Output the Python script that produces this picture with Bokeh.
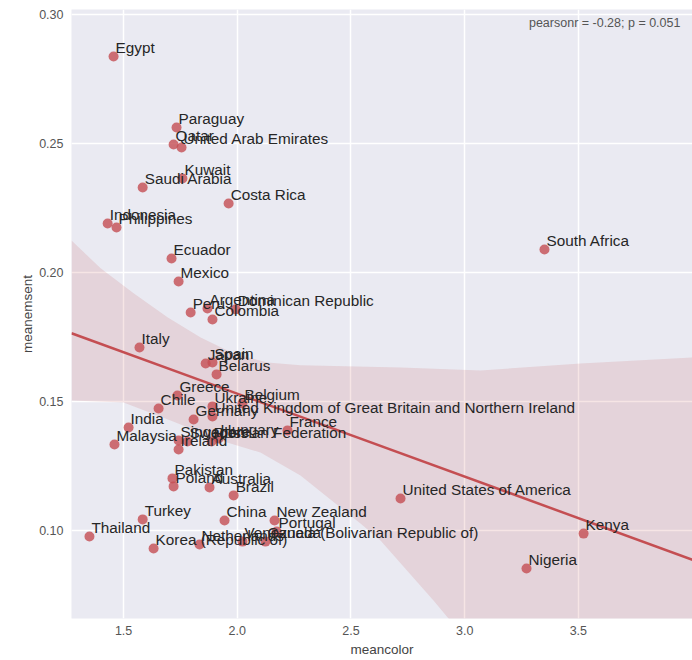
import numpy as np
from bokeh.plotting import figure
from bokeh.models import ColumnDataSource, FixedTicker, PrintfTickFormatter, Label, Range1d
from bokeh.core.properties import value
from bokeh.embed import file_html
from bokeh.resources import INLINE

countries = ["Egypt", "Paraguay", "Qatar", "United Arab Emirates", "Kuwait", "Saudi Arabia",
             "Costa Rica", "Indonesia", "Philippines", "Ecuador", "Mexico", "Peru", "Argentina",
             "Dominican Republic", "Colombia", "Italy", "Japan", "Spain", "Belarus", "South Africa",
             "Greece", "Chile", "Ukraine", "Belgium", "United Kingdom of Great Britain and Northern Ireland",
             "Germany", "France", "India", "Malaysia", "Singapore", "Sweden", "Ireland",
             "Russian Federation", "Hungary", "Pakistan", "Poland", "Australia", "Brazil", "Turkey",
             "China", "New Zealand", "Portugal", "Thailand", "Korea (Republic of)", "Netherlands",
             "Venezuela (Bolivarian Republic of)", "Canada", "United States of America", "Kenya", "Nigeria"]
mean_color = [1.456, 1.733, 1.720, 1.755, 1.759, 1.584,
              1.962, 1.430, 1.469, 1.711, 1.742, 1.795, 1.869,
              1.993, 1.891, 1.570, 1.861, 1.891, 1.909, 3.351,
              1.737, 1.654, 1.891, 2.023, 1.891,
              1.808, 2.221, 1.522, 1.460, 1.742, 1.781, 1.742,
              1.887, 1.918, 1.715, 1.720, 1.878, 1.984, 1.584,
              1.944, 2.164, 2.173, 1.350, 1.632, 1.834,
              2.023, 2.124, 2.718, 3.523, 3.272]
mean_emsent = [0.2837, 0.2562, 0.2496, 0.2484, 0.2364, 0.2329,
               0.2267, 0.2190, 0.2174, 0.2054, 0.1965, 0.1845, 0.1860,
               0.1857, 0.1818, 0.1709, 0.1647, 0.1651, 0.1605, 0.2089,
               0.1523, 0.1473, 0.1481, 0.1492, 0.1442,
               0.1430, 0.1388, 0.1399, 0.1333, 0.1349, 0.1345, 0.1314,
               0.1345, 0.1357, 0.1202, 0.1171, 0.1167, 0.1136, 0.1043,
               0.1039, 0.1039, 0.0996, 0.0977, 0.0930, 0.0946,
               0.0957, 0.0957, 0.1124, 0.0988, 0.0853]

# confidence band edges
band_upper_x = [1.271, 1.399, 1.544, 1.693, 1.839, 1.984, 2.133, 2.278, 2.718, 3.070, 3.510, 4.002]
band_upper_y = [0.2124, 0.2016, 0.1919, 0.1826, 0.1748, 0.1686, 0.1651, 0.1640, 0.1632, 0.1620, 0.1647, 0.1671]
band_lower_x = [1.271, 1.500, 1.707, 1.927, 2.102, 2.278, 2.542, 2.630, 2.863, 2.929, 4.002]
band_lower_y = [0.1504, 0.1496, 0.1426, 0.1349, 0.1302, 0.1213, 0.1027, 0.0961, 0.0729, 0.0659, -0.0477]

x_ticks = [1.5, 2.0, 2.5, 3.0, 3.5]
y_ticks = [0.10, 0.15, 0.20, 0.25, 0.30]
stat_text = "pearsonr = -0.28; p = 0.051"

X0, X1 = 1.271, 4.002
Y0, Y1 = 0.0659, 0.3019
RED = "#C44E52"
FONT = "Liberation Sans"

p = figure(width=692, height=660, output_backend="svg", toolbar_location=None,
           x_range=Range1d(X0, X1), y_range=Range1d(Y0, Y1),
           min_border_left=71, min_border_right=0, min_border_top=9, min_border_bottom=42)
p.background_fill_color = "#EAEAF2"
p.border_fill_color = "white"
p.outline_line_color = None

for ax in (p.xaxis, p.yaxis):
    ax.axis_line_color = None
    ax.major_tick_line_color = None
    ax.minor_tick_line_color = None
    ax.major_label_text_font = FONT
    ax.major_label_text_font_size = "12.5px"
    ax.major_label_text_color = "#555555"
    ax.axis_label_text_font = FONT
    ax.axis_label_text_font_size = "13.5px"
    ax.axis_label_text_font_style = "normal"
    ax.axis_label_text_color = "#444444"

p.xaxis.ticker = FixedTicker(ticks=x_ticks)
p.yaxis.ticker = FixedTicker(ticks=y_ticks)
p.xaxis.formatter = PrintfTickFormatter(format="%.1f")
p.yaxis.formatter = PrintfTickFormatter(format="%.2f")
p.xaxis.axis_label = "meancolor"
p.yaxis.axis_label = "meanemsent"
p.xaxis.major_label_standoff = 1
p.yaxis.major_label_standoff = 2
p.xaxis.axis_label_standoff = 4
p.yaxis.axis_label_standoff = 1

p.grid.grid_line_color = "white"
p.grid.grid_line_width = 1.5
p.xgrid.ticker = FixedTicker(ticks=x_ticks)
p.ygrid.ticker = FixedTicker(ticks=y_ticks)

# confidence band
patch_x = band_upper_x + band_lower_x[::-1]
patch_y = band_upper_y + band_lower_y[::-1]
p.patch(patch_x, patch_y, fill_color=RED, fill_alpha=0.15, line_color=None)

# regression line
slope, intercept = np.polyfit(np.array(mean_color), np.array(mean_emsent), 1)
lx = np.array([X0, X1])
p.line(lx, slope * lx + intercept, line_color=RED, line_width=2.5)

src = ColumnDataSource(dict(x=mean_color, y=mean_emsent, name=countries))
p.scatter("x", "y", source=src, size=10, fill_color=RED, fill_alpha=0.8, line_color=None)
p.text("x", "y", text="name", source=src, x_offset=2, y_offset=-9,
       text_font=value(FONT), text_font_size="15.3px", text_color="#262626",
       text_align="left", text_baseline="alphabetic")

p.add_layout(Label(x=3.949, y=0.2995, text=stat_text, text_align="right", text_baseline="top",
                   text_font=FONT, text_font_size="12.5px", text_color="#555555"))

open("out.html", "w").write(file_html(p, INLINE))
